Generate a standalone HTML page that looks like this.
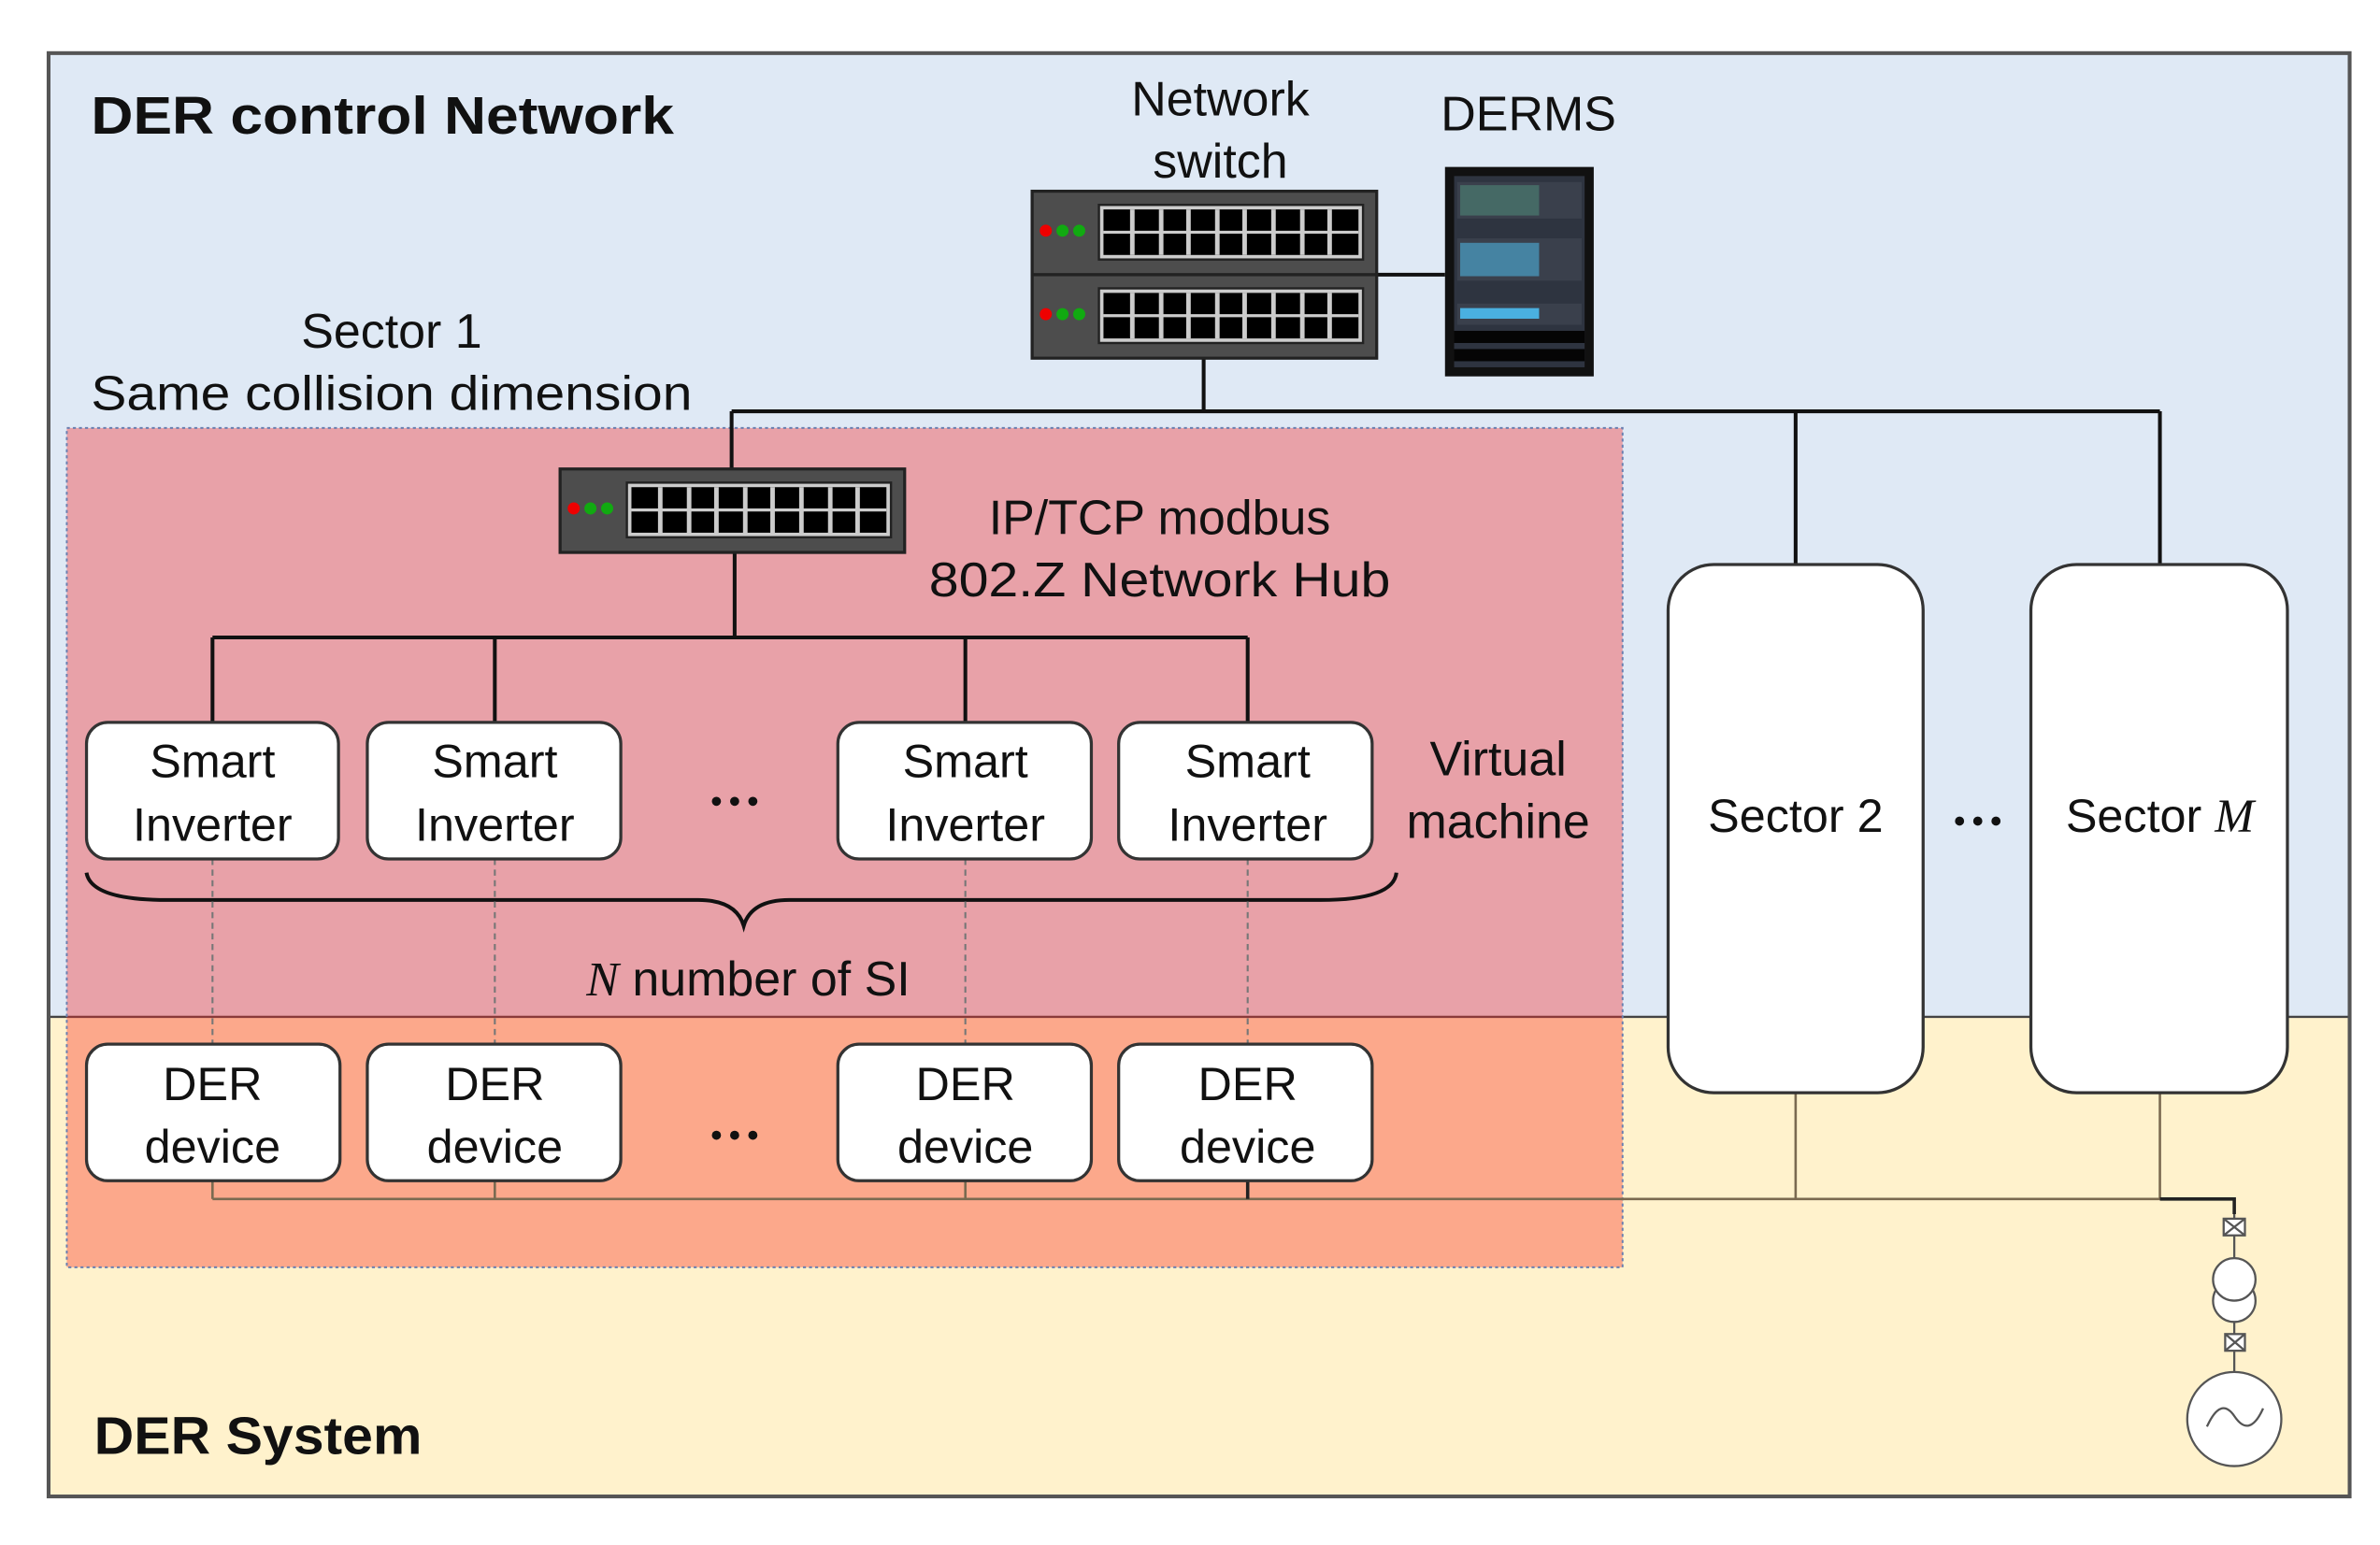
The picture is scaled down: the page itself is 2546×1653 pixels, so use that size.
<!DOCTYPE html>
<html><head><meta charset="utf-8"><style>
html,body{margin:0;padding:0;background:#fff;}
svg{display:block;}
text{font-family:"Liberation Sans","DejaVu Sans",sans-serif;fill:#111;}
</style></head><body>
<svg width="2546" height="1653" viewBox="0 0 1568 1018" preserveAspectRatio="none" xmlns="http://www.w3.org/2000/svg">
<rect x="0" y="0" width="1568" height="1018" fill="#fff"/>
<rect x="32" y="35" width="1516" height="635" fill="#dfe9f5"/>
<rect x="32" y="670" width="1516" height="316" fill="#fff2cc"/>
<line x1="32" y1="670" x2="1548" y2="670" stroke="#444" stroke-width="1.5"/>
<rect x="32" y="35" width="1516" height="951" fill="none" stroke="#555" stroke-width="2.5"/>
<rect x="44" y="282" width="1025" height="388" fill="#e8a1a8"/>
<rect x="44" y="670" width="1025" height="165" fill="#fca88b"/>
<line x1="44" y1="670" x2="1069" y2="670" stroke="#8a3a3a" stroke-width="1.5"/>
<rect x="44" y="282" width="1025" height="553" fill="none" stroke="#6a7fb0" stroke-width="1.2" stroke-dasharray="2,2"/>

<text x="60" y="88" font-size="35" font-weight="bold" textLength="384" lengthAdjust="spacingAndGlyphs">DER control Network</text>
<text x="62" y="958" font-size="35" font-weight="bold" textLength="216" lengthAdjust="spacingAndGlyphs">DER System</text>
<text x="804" y="76" font-size="32" text-anchor="middle">Network</text>
<text x="804" y="117" font-size="32" text-anchor="middle">switch</text>
<text x="1007" y="86" font-size="32" text-anchor="middle">DERMS</text>
<text x="258" y="229" font-size="32" text-anchor="middle">Sector 1</text>
<text x="60" y="270" font-size="32" textLength="396" lengthAdjust="spacingAndGlyphs">Same collision dimension</text>
<text x="764" y="352" font-size="32" text-anchor="middle">IP/TCP modbus</text>
<text x="764" y="393" font-size="32" text-anchor="middle" textLength="304" lengthAdjust="spacingAndGlyphs">802.Z Network Hub</text>
<text x="987" y="511" font-size="32" text-anchor="middle">Virtual</text>
<text x="987" y="552" font-size="32" text-anchor="middle">machine</text>
<text x="493" y="656" font-size="32" text-anchor="middle"><tspan font-family="Liberation Serif" font-style="italic">N</tspan> number of SI</text>

<g stroke="#111" stroke-width="2.5" fill="none">
<line x1="793" y1="235" x2="793" y2="271"/>
<line x1="482" y1="271" x2="1423" y2="271"/>
<line x1="482" y1="271" x2="482" y2="309"/>
<line x1="1183" y1="271" x2="1183" y2="372"/>
<line x1="1423" y1="271" x2="1423" y2="372"/>
<line x1="907" y1="181" x2="952" y2="181"/>
<line x1="484" y1="362" x2="484" y2="420"/>
<line x1="140" y1="420" x2="822" y2="420"/>
<line x1="140" y1="420" x2="140" y2="476"/>
<line x1="326" y1="420" x2="326" y2="476"/>
<line x1="636" y1="420" x2="636" y2="476"/>
<line x1="822" y1="420" x2="822" y2="476"/>
<path d="M57 575 Q60 593 110 593 L460 593 Q485 593 490 610 Q495 593 520 593 L870 593 Q918 593 920 575"/>
</g>
<g stroke="#777" stroke-width="1.3" stroke-dasharray="4,3">
<line x1="140" y1="566" x2="140" y2="688"/>
<line x1="326" y1="566" x2="326" y2="688"/>
<line x1="636" y1="566" x2="636" y2="688"/>
<line x1="822" y1="566" x2="822" y2="688"/>
</g>
<g stroke="#7a6a50" stroke-width="1.6" fill="none">
<line x1="140" y1="778" x2="140" y2="790"/>
<line x1="326" y1="778" x2="326" y2="790"/>
<line x1="636" y1="778" x2="636" y2="790"/>
<line x1="1183" y1="720" x2="1183" y2="790"/>
<line x1="1423" y1="720" x2="1423" y2="790"/>
<line x1="140" y1="790" x2="1423" y2="790"/>
</g>
<g stroke="#222" stroke-width="2.2" fill="none">
<line x1="822" y1="778" x2="822" y2="790"/>
<path d="M1423 790 L1472 790 L1472 800"/>
</g>
<g stroke="#555" stroke-width="1.4" fill="#fff">
<line x1="1472" y1="800" x2="1472" y2="905"/>
<rect x="1465" y="803" width="14" height="11"/>
<path d="M1465 803 L1479 814 M1479 803 L1465 814" fill="none"/>
<circle cx="1472" cy="857" r="14"/>
<circle cx="1472" cy="843" r="14"/>
<rect x="1466" y="879" width="13" height="11"/>
<path d="M1466 879 L1479 890 M1479 879 L1466 890" fill="none"/>
<circle cx="1472" cy="935" r="31"/>
<path d="M1454 940 Q1463 920 1472 933 Q1482 948 1491 928" fill="none"/>
</g>

<g fill="#fff" stroke="#333" stroke-width="2">
<rect x="57" y="476" width="166" height="90" rx="14"/>
<rect x="242" y="476" width="167" height="90" rx="14"/>
<rect x="552" y="476" width="167" height="90" rx="14"/>
<rect x="737" y="476" width="167" height="90" rx="14"/>
<rect x="57" y="688" width="167" height="90" rx="14"/>
<rect x="242" y="688" width="167" height="90" rx="14"/>
<rect x="552" y="688" width="167" height="90" rx="14"/>
<rect x="737" y="688" width="167" height="90" rx="14"/>
<rect x="1099" y="372" width="168" height="348" rx="30"/>
<rect x="1338" y="372" width="169" height="348" rx="30"/>
</g>
<g font-size="31" text-anchor="middle">
<text x="140" y="512">Smart</text><text x="140" y="554">Inverter</text>
<text x="326" y="512">Smart</text><text x="326" y="554">Inverter</text>
<text x="636" y="512">Smart</text><text x="636" y="554">Inverter</text>
<text x="822" y="512">Smart</text><text x="822" y="554">Inverter</text>
<text x="140" y="725">DER</text><text x="140" y="766">device</text>
<text x="326" y="725">DER</text><text x="326" y="766">device</text>
<text x="636" y="725">DER</text><text x="636" y="766">device</text>
<text x="822" y="725">DER</text><text x="822" y="766">device</text>
<text x="1183" y="548">Sector 2</text>
<text x="1423" y="548">Sector <tspan font-family="Liberation Serif" font-style="italic">M</tspan></text>
</g>
<g fill="#111">
<circle cx="472" cy="528" r="3"/><circle cx="484" cy="528" r="3"/><circle cx="496" cy="528" r="3"/>
<circle cx="472" cy="748" r="3"/><circle cx="484" cy="748" r="3"/><circle cx="496" cy="748" r="3"/>
<circle cx="1291" cy="541" r="3"/><circle cx="1303" cy="541" r="3"/><circle cx="1315" cy="541" r="3"/>
</g>

<defs>
<g id="sw">
<rect x="0" y="0" width="227" height="55" fill="#4d4d4d" stroke="#222" stroke-width="2"/>
<circle cx="9" cy="26" r="4" fill="#e00"/><circle cx="20" cy="26" r="4" fill="#1a1"/><circle cx="31" cy="26" r="4" fill="#1a1"/>
<rect x="44" y="9" width="174" height="36" fill="#ccc" stroke="#222" stroke-width="1.5"/>
<rect x="47" y="12" width="168" height="30" fill="#000"/>
<line x1="47" y1="27" x2="215" y2="27" stroke="#ccc" stroke-width="2"/>
<g stroke="#ccc" stroke-width="3">
<line x1="66" y1="12" x2="66" y2="42"/><line x1="85" y1="12" x2="85" y2="42"/><line x1="103" y1="12" x2="103" y2="42"/><line x1="122" y1="12" x2="122" y2="42"/><line x1="140" y1="12" x2="140" y2="42"/><line x1="159" y1="12" x2="159" y2="42"/><line x1="178" y1="12" x2="178" y2="42"/><line x1="196" y1="12" x2="196" y2="42"/>
</g>
</g>
</defs>
<use href="#sw" x="680" y="126"/>
<use href="#sw" x="680" y="181"/>
<use href="#sw" x="369" y="309"/>
<rect x="952" y="110" width="98" height="138" fill="#111"/>
<rect x="958" y="116" width="86" height="126" fill="#2e3440"/>
<rect x="960" y="120" width="82" height="24" fill="#3a404c"/>
<rect x="962" y="122" width="52" height="20" fill="#4a7a70" opacity="0.7"/>
<rect x="960" y="157" width="82" height="28" fill="#3a404c"/>
<rect x="962" y="160" width="52" height="22" fill="#4aa0c8" opacity="0.7"/>
<rect x="960" y="200" width="82" height="14" fill="#3a404c"/>
<rect x="962" y="203" width="52" height="7" fill="#4ab0e0"/>
<rect x="958" y="218" width="86" height="8" fill="#050505"/>
<rect x="958" y="230" width="86" height="8" fill="#050505"/>
</svg>
</body></html>
